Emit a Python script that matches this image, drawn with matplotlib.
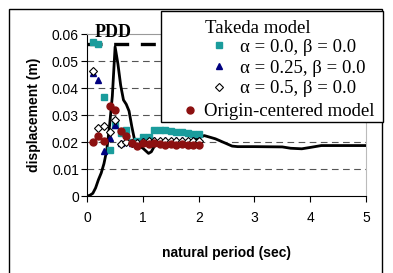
import matplotlib
matplotlib.use('Agg')
import matplotlib.pyplot as plt
from matplotlib.lines import Line2D
from matplotlib.patches import Rectangle
import matplotlib.ticker as tck

# response curve (solid black)
period = [0, 0.05, 0.1, 0.15, 0.2, 0.25, 0.3, 0.35, 0.4, 0.45, 0.5, 0.55, 0.6,
          0.65, 0.7, 0.75, 0.8, 0.85, 0.9, 0.95, 1.0, 1.1, 1.15, 1.2, 1.3, 1.4,
          1.6, 1.8, 2.0, 2.1, 2.3, 2.6, 2.7, 3.0, 3.5, 3.65, 3.85, 4.0, 4.2, 4.5, 5.0]
disp = [0, 0.0003, 0.001, 0.003, 0.006, 0.0085, 0.012, 0.017, 0.026, 0.037, 0.0553, 0.049, 0.041,
        0.0356, 0.034, 0.0315, 0.0257, 0.0207, 0.0189, 0.0183, 0.0177, 0.0158, 0.0164, 0.0183, 0.020, 0.0197,
        0.0192, 0.0198, 0.0215, 0.0224, 0.0212, 0.0185, 0.0183, 0.0183, 0.0182, 0.0177, 0.0175, 0.0180, 0.0187, 0.0187, 0.0187]

pdd = 0.0564

t_pts = [0.1, 0.2, 0.3, 0.4, 0.5, 0.6, 0.7, 0.8, 0.9, 1.0,
         1.1, 1.2, 1.3, 1.4, 1.5, 1.6, 1.7, 1.8, 1.9, 2.0]
takeda_00 = [0.0572, 0.0563, 0.0367, 0.0172, 0.0265, 0.0235, 0.0244, 0.0200, 0.0205, 0.0220,
             0.0220, 0.0244, 0.0244, 0.0243, 0.0241, 0.0239, 0.0236, 0.0234, 0.0230, 0.0228]
takeda_025 = [0.0455, 0.0430, 0.0165, 0.0214, 0.0263, 0.0195, 0.0205, 0.0195, 0.0200, 0.0203,
              0.0205, 0.0206, 0.0205, 0.0206, 0.0205, 0.0206, 0.0206, 0.0205, 0.0206, 0.0206]
takeda_05 = [0.0463, 0.0253, 0.0258, 0.0237, 0.0283, 0.0192, 0.0200, 0.0195, 0.0198, 0.0200,
             0.0203, 0.0204, 0.0205, 0.0204, 0.0205, 0.0205, 0.0204, 0.0205, 0.0205, 0.0205]
origin = [0.0200, 0.0222, 0.0203, 0.0335, 0.0318, 0.0240, 0.0222, 0.0196, 0.0186, 0.0195,
          0.0193, 0.0195, 0.0193, 0.0190, 0.0192, 0.0190, 0.0191, 0.0190, 0.0190, 0.0190]

teal = '#1a9c9c'
navy = '#000080'
dred = '#8c1010'
FS = 13.5

fig = plt.figure(figsize=(3.93, 2.73), dpi=100)
ax = fig.add_axes([0.222, 0.282, 0.709, 0.593])

ax.set_xlim(0, 5)
ax.set_ylim(0, 0.06)
ax.set_yticks([0, 0.01, 0.02, 0.03, 0.04, 0.05, 0.06])
ax.yaxis.set_major_formatter(tck.FuncFormatter(lambda v, p: '0' if v == 0 else '%.2f' % v))
for y in [0.01, 0.02, 0.03, 0.04, 0.05]:
    ax.axhline(y, color='#555555', linewidth=0.8, dashes=(6, 4), zorder=1)

ax.plot(period, disp, color='black', linewidth=2.0, zorder=3)
ax.plot([0, 5], [pdd, pdd], color='black', linewidth=2.4, dashes=(4.5, 3.5), zorder=3)
ax.text(0.47, 0.0606, 'PDD', family='Liberation Serif', fontweight='bold', fontsize=13,
        ha='center', va='center', zorder=5)

ax.plot(t_pts, takeda_00, 's', color=teal, markersize=4.3, zorder=4)
ax.plot(t_pts, takeda_025, '^', color=navy, markersize=4.8, zorder=4)
ax.plot(t_pts, takeda_05, 'D', markerfacecolor='white', markeredgecolor='black',
        markeredgewidth=0.8, markersize=3.8, zorder=4)
ax.plot(t_pts, origin, 'o', color=dred, markersize=5, zorder=4)

for s in ['left', 'bottom']:
    ax.spines[s].set_color('black')
ax.spines['top'].set_color('#999999')
ax.spines['right'].set_color('#bbbbbb')
ax.tick_params(axis='both', direction='out', length=4, width=0.8, labelsize=10)
ax.tick_params(axis='x', pad=6.5)
ax.tick_params(axis='y', pad=2)
for lbl in ax.get_xticklabels() + ax.get_yticklabels():
    lbl.set_family('Liberation Sans')
ax.set_xlabel('natural period (sec)', family='Liberation Sans', fontweight='bold',
              fontsize=10, labelpad=15.5)
ax.set_ylabel('displacement (m)', family='Liberation Sans', fontweight='bold',
              fontsize=10, labelpad=7.5)

# outer frame
fig.patches.append(Rectangle((9 / 393, -0.05), 373 / 393, 1.05 - 9 / 273, transform=fig.transFigure,
                             fill=False, edgecolor='black', linewidth=1.0))
# legend box
fig.patches.append(Rectangle((161 / 393, 1 - 122 / 273), 222 / 393, 111 / 273,
                             transform=fig.transFigure, facecolor='white', edgecolor='black',
                             linewidth=1.0, zorder=6))

h1 = [Line2D([], [], linestyle='none', marker='s', color=teal, markersize=4.3),
      Line2D([], [], linestyle='none', marker='^', color=navy, markersize=4.8),
      Line2D([], [], linestyle='none', marker='D', markerfacecolor='white',
             markeredgecolor='black', markeredgewidth=0.8, markersize=3.8)]
leg1 = fig.legend(h1, ['α = 0.0, β = 0.0', 'α = 0.25, β = 0.0', 'α = 0.5, β = 0.0'],
                  title='Takeda model', loc='upper left', bbox_to_anchor=(192 / 393, 1 - 7 / 273),
                  frameon=False, prop={'family': 'Liberation Serif', 'size': FS},
                  handlelength=1.5, handletextpad=0.37, labelspacing=0.2, borderpad=0.2)
leg1.get_title().set_family('Liberation Serif')
leg1.get_title().set_fontsize(FS)
leg1._legend_box.align = 'left'
leg1._legend_box.sep = 1
leg1.set_zorder(7)

h2 = [Line2D([], [], linestyle='none', marker='o', color=dred, markersize=5)]
leg2 = fig.legend(h2, ['Origin-centered model'], loc='upper left',
                  bbox_to_anchor=(167 / 393, 1 - 90 / 273), frameon=False,
                  prop={'family': 'Liberation Serif', 'size': FS},
                  handlelength=1.0, handletextpad=0.3, borderpad=0.2)
leg2.set_zorder(7)

fig.savefig('out.png', dpi=100)
